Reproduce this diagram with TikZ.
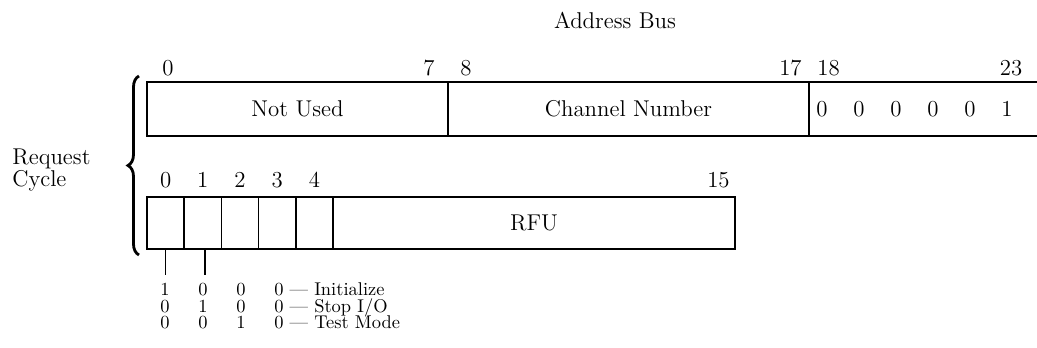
\documentclass[tikz,border=0pt]{standalone}
\usepackage{tikz}
\usetikzlibrary{positioning, decorations.pathreplacing}
\tikzstyle{field} = [rectangle, draw=black, line width=1pt, outer sep=0pt, inner sep=0pt, minimum height=1.08cm, text centered, font=\fontsize{13}{15}\selectfont]
\tikzstyle{cell} = [rectangle, draw=black, line width=1pt, outer sep=0pt, inner sep=0pt, minimum width=0.744cm, minimum height=1.04cm]
\tikzstyle{bitnum} = [inner sep=0pt, font=\fontsize{13}{15}\selectfont]
\tikzstyle{heading} = [inner sep=0pt, font=\fontsize{13}{12.5}\selectfont]
\tikzstyle{coderow} = [inner sep=0pt, anchor=base west, font=\fontsize{10.5}{11}\selectfont]
\tikzstyle{tick} = [line width=1pt]
\newcommand{\coderowtext}[4]{\makebox[0.76cm][l]{#1}\makebox[0.76cm][l]{#2}\makebox[0.76cm][l]{#3}#4}
\newcommand{\fixedbit}[1]{\makebox[0.74cm][l]{#1}}

\begin{document}
\begin{tikzpicture}
    \useasboundingbox (0,0) rectangle (20.74,6.96);

    % Address bus word
    \node (bus) [heading, anchor=base] at (12.3,6.38) {Address Bus};
    \node (notused) [field, minimum width=6.02cm, anchor=north west] at (2.94,5.32) {Not Used};
    \node (channel) [field, minimum width=7.22cm, right=0pt of notused] {Channel Number};
    \draw [tick] (channel.north east) -- ++(4.56,0);
    \draw [tick] (channel.south east) -- ++(4.56,0);
    \node (fixed) [bitnum, anchor=west] at ([xshift=0.14cm]channel.east) {\fixedbit{0}\fixedbit{0}\fixedbit{0}\fixedbit{0}\fixedbit{0}1};

    \node (n0) [bitnum, above right=0.12cm and 0.3cm of notused.north west] {0};
    \node (n7) [bitnum, above left=0.12cm and 0.26cm of notused.north east] {7};
    \node (n8) [bitnum, above right=0.12cm and 0.24cm of channel.north west] {8};
    \node (n17) [bitnum, above left=0.12cm and 0.14cm of channel.north east] {17};
    \node (n18) [bitnum, above right=0.12cm and 0.16cm of channel.north east] {18};
    \node (n23) [bitnum, anchor=base] at (20.22,5.44) {23};

    % Request word
    \node (c0) [cell, anchor=north west] at (2.94,3.02) {};
    \node (c1) [cell, right=0pt of c0] {};
    \node (c2) [cell, right=0pt of c1] {};
    \node (c3) [cell, right=0pt of c2] {};
    \node (c4) [cell, right=0pt of c3] {};
    \node (rfu) [field, minimum width=8.04cm, minimum height=1.04cm, right=0pt of c4] {RFU};

    \node (m0) [bitnum, above=0.18cm of c0] {0};
    \node (m1) [bitnum, above=0.18cm of c1] {1};
    \node (m2) [bitnum, above=0.18cm of c2] {2};
    \node (m3) [bitnum, above=0.18cm of c3] {3};
    \node (m4) [bitnum, above=0.18cm of c4] {4};
    \node (m15) [bitnum, above left=0.18cm and 0.1cm of rfu.north east] {15};

    % Brace and side label
    \draw [decorate, decoration={brace, amplitude=0.22cm}, line width=1.6pt] (2.78,1.86) -- (2.78,5.44);
    \node (req) [heading, anchor=north west, align=left] at (0.24,3.98) {Request\\Cycle};

    % Codes
    \node (rowinit) [coderow] at (3.2,1.04) {\coderowtext{1}{0}{0}{0 --- Initialize}};
    \node (rowstop) [coderow] at (3.2,0.71) {\coderowtext{0}{1}{0}{0 --- Stop I/O}};
    \node (rowtest) [coderow] at (3.2,0.38) {\coderowtext{0}{0}{1}{0 --- Test Mode}};
    \draw [tick] (c0.south) -- ([yshift=0.16cm]c0.south |- rowinit.north);
    \draw [tick] ([xshift=0.05cm]c1.south) -- ([xshift=0.05cm, yshift=0.16cm]c1.south |- rowinit.north);

\end{tikzpicture}
\end{document}
